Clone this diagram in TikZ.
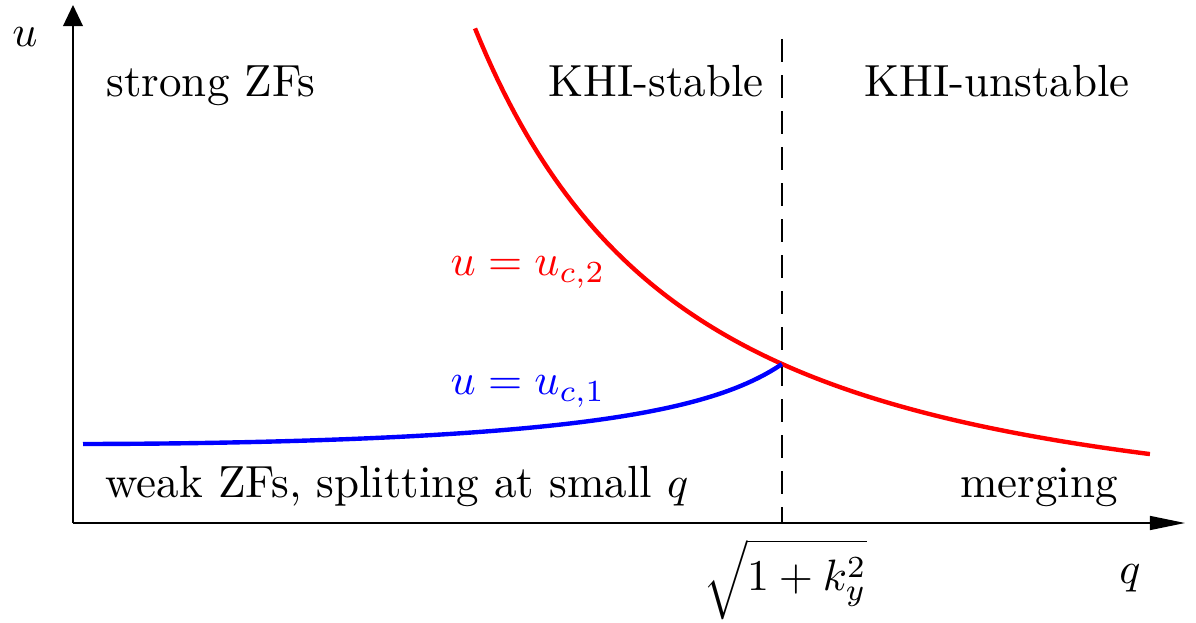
\documentclass[tikz,border=0pt]{standalone}
\usetikzlibrary{arrows.meta}
\begin{document}
\begin{tikzpicture}[x=0.2277pt,y=-0.2277pt,
  axis/.style={line width=0.3pt},
  lbl/.style={inner sep=0pt,anchor=base,font=\fontsize{10.25}{12}\selectfont},
  curve/.style={line width=1pt}]
\useasboundingbox (0,0) rectangle (1196,623);
\coordinate (O) at (73,523);
\coordinate (Ytop) at (73,5);
\coordinate (Xend) at (1185,523);
\coordinate (Dtop) at (782,39);
\coordinate (Dbot) at (782,523);
\draw[axis,-{Triangle[length=4.8pt,width=4.5pt]}] (O) -- (Ytop);
\draw[axis,-{Triangle[length=8pt,width=3.2pt]}] (O) -- (Xend);
\draw[line width=0.3pt,dash pattern=on 5.2pt off 3pt] (Dtop) -- (Dbot);
\draw[curve,red] plot[domain=4.02:10.77,samples=120] ({73+100*\x},{523-7993/(\x*\x)});
\draw[curve,blue] plot[domain=0.10:7.09,samples=120] ({73+100*\x},{523-645.5/sqrt(66.76-\x*\x)});
\node[lbl] (ul) at (25,47) {$u$};
\node[lbl] (strong) at (211,97) {strong ZFs};
\node[lbl] (stable) at (656,97) {KHI-stable};
\node[lbl] (unstable) at (997,97) {KHI-unstable};
\node[lbl,red] (uc2) at (528,276) {$u=u_{c,2}$};
\node[lbl,blue] (uc1) at (528,395) {$u=u_{c,1}$};
\node[lbl] (weak) at (397,497) {weak ZFs, splitting at small $q$};
\node[lbl] (merging) at (1039,497) {merging};
\node[lbl] (sq) at (785,590) {$\sqrt{1+k_y^2}$};
\node[lbl] (ql) at (1130,583) {$q$};
\end{tikzpicture}
\end{document}
